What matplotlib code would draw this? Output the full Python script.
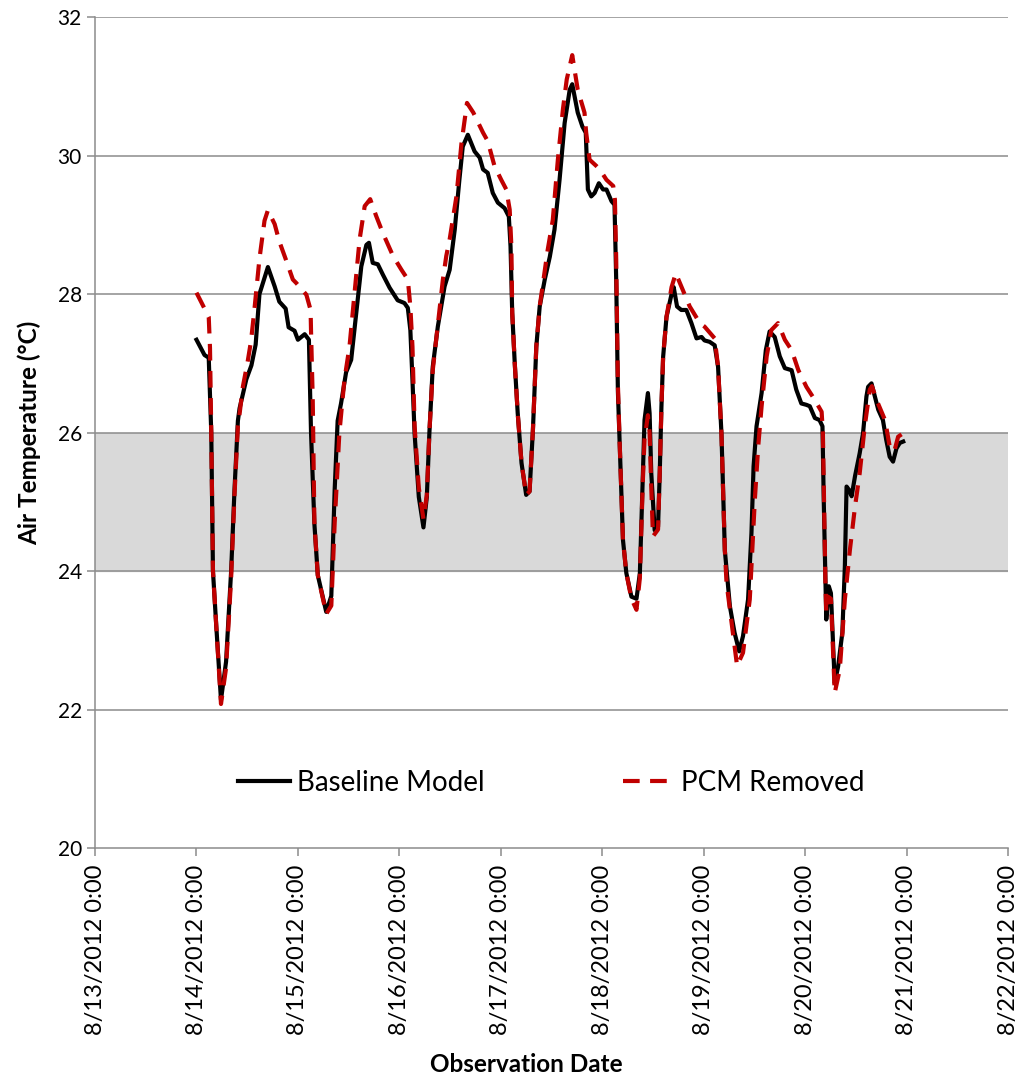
import pandas as pd
import matplotlib
matplotlib.use("Agg")
import matplotlib.pyplot as plt

# hours after 8/14/2012 0:00, air temperature in deg C
base_hours = [0, 1.9, 2.9, 3.5, 3.9, 4.7, 5.8, 7.0, 8.2, 9.0, 9.8, 10.2, 11.8, 13.0, 14.0, 14.9,
              16.9, 18.5, 19.6, 21.1, 21.8, 23.2, 24.0, 25.6, 26.6, 27.1, 27.9, 28.7, 30.7, 31.9,
              32.7, 33.4, 34.2, 35.4, 36.6, 37.8, 39.0, 40.2, 40.8, 41.7, 42.9, 44.1, 45.7, 47.6,
              49.2, 50.0, 50.6, 51.1, 51.6, 52.6, 53.7, 54.5, 55.1, 55.9, 57.1, 58.7, 59.9, 61.1,
              62.2, 63.0, 64.2, 65.8, 67.0, 67.8, 68.9, 70.1, 71.3, 72.9, 73.9, 74.3, 74.7, 75.3,
              76.0, 76.9, 78.0, 78.8, 79.6, 80.4, 81.2, 82.4, 83.6, 84.7, 85.9, 87.1, 88.3, 88.9,
              90.2, 91.3, 92.1, 92.6, 93.4, 94.2, 95.2, 96.2, 97.0, 98.2, 98.9, 99.3, 99.7, 100.1,
              100.9, 101.7, 102.9, 104.1, 104.9, 105.6, 106.0, 106.8, 107.2, 107.6, 108.4, 109.2,
              109.6, 110.0, 110.4, 111.2, 112.4, 112.9, 113.7, 114.7, 115.9, 117.1, 118.3, 119.5,
              120.2, 121.4, 122.6, 123.4, 124.2, 125.0, 126.2, 127.3, 128.4, 129.3, 130.5, 131.3,
              131.8, 132.5, 133.7, 134.7, 135.6, 136.8, 138.0, 139.2, 140.8, 141.9, 143.1, 144.3,
              145.1, 146.3, 147.4, 148.1, 148.4, 148.8, 149.0, 149.6, 150.1, 150.5, 151.0, 151.8,
              152.8, 153.4, 153.8, 154.4, 155.0, 155.8, 156.9, 157.7, 158.5, 158.9, 159.7, 160.5,
              161.3, 162.4, 163.2, 164.0, 164.8, 165.6, 166.4, 167.2]
base_temp = [27.34, 27.12, 27.08, 26.0, 24.0, 23.19, 22.14, 22.69, 24.0, 25.18, 26.17, 26.35, 26.77,
             26.97, 27.27, 28.0, 28.39, 28.11, 27.89, 27.79, 27.52, 27.47, 27.34, 27.42, 27.34,
             26.0, 24.68, 23.94, 23.41, 23.64, 25.18, 26.17, 26.42, 26.87, 27.05, 27.72, 28.4,
             28.71, 28.74, 28.45, 28.43, 28.28, 28.09, 27.91, 27.87, 27.8, 27.48, 26.76, 25.99,
             25.07, 24.63, 25.07, 25.99, 26.95, 27.53, 28.11, 28.35, 28.93, 29.65, 30.13, 30.3,
             30.06, 29.97, 29.8, 29.75, 29.46, 29.32, 29.24, 29.12, 28.69, 27.73, 27.0, 26.28,
             25.56, 25.1, 25.15, 26.04, 27.24, 27.82, 28.21, 28.54, 28.93, 29.65, 30.47, 30.95,
             31.03, 30.62, 30.42, 30.33, 29.51, 29.41, 29.46, 29.6, 29.51, 29.51, 29.34, 29.29,
             28.21, 26.6, 25.89, 24.45, 23.97, 23.63, 23.6, 23.97, 25.41, 26.18, 26.57, 26.28,
             25.41, 24.59, 24.64, 25.41, 26.37, 27.09, 27.67, 28.0, 28.1, 27.82, 27.77, 27.77,
             27.58, 27.36, 27.38, 27.33, 27.31, 27.26, 26.95, 25.99, 24.3, 23.49, 23.11, 22.84,
             23.06, 23.59, 24.55, 25.51, 26.09, 26.57, 27.19, 27.46, 27.38, 27.1, 26.93, 26.9,
             26.62, 26.42, 26.4, 26.38, 26.21, 26.18, 26.09, 25.03, 23.83, 23.3, 23.78, 23.68,
             23.11, 22.38, 22.62, 23.11, 24.07, 25.22, 25.17, 25.08, 25.37, 25.7, 25.99, 26.52,
             26.66, 26.71, 26.52, 26.33, 26.18, 25.89, 25.65, 25.58, 25.77, 25.85, 25.87]

pcm_hours = [0, 1.5, 2.9, 3.2, 3.5, 3.9, 4.7, 5.8, 7.0, 8.2, 9.0, 9.8, 10.2, 11.0, 12.1, 12.9, 13.7,
             14.9, 16.1, 16.9, 18.5, 19.6, 21.2, 22.8, 23.6, 26.0, 27.0, 27.1, 27.5, 27.9, 28.7,
             30.7, 31.9, 32.7, 33.8, 35.0, 36.2, 37.4, 38.6, 39.8, 41.1, 42.5, 44.1, 46.5, 48.5,
             50.0, 50.6, 51.1, 51.6, 52.6, 53.7, 54.5, 55.1, 55.9, 56.7, 58.3, 59.1, 59.9, 61.5,
             62.7, 64.0, 65.5, 67.8, 68.9, 70.5, 72.1, 73.3, 74.1, 74.5, 74.7, 75.3, 76.0, 76.9,
             78.0, 78.8, 79.6, 80.4, 81.2, 83.1, 84.3, 85.5, 86.7, 87.6, 88.9, 90.2, 91.8, 92.2,
             93.0, 94.6, 95.4, 97.0, 98.6, 99.0, 99.3, 99.7, 100.1, 100.9, 101.7, 102.9, 104.1,
             104.9, 105.6, 106.0, 106.8, 107.2, 107.6, 108.0, 109.2, 109.6, 110.0, 110.4, 111.2,
             112.4, 113.4, 116.7, 119.1, 120.2, 122.6, 123.4, 124.2, 125.0, 125.4, 126.6, 127.9,
             129.3, 130.9, 131.5, 132.1, 132.9, 133.7, 134.9, 136.0, 137.6, 139.2, 140.8, 142.4,
             144.3, 146.3, 147.9, 148.2, 148.8, 149.0, 149.4, 150.1, 150.5, 151.0, 152.2, 153.4,
             154.6, 155.8, 156.9, 158.1, 159.3, 159.8, 160.9, 162.9, 164.0, 165.1, 166.0, 167.2]
pcm_temp = [28.02, 27.84, 27.67, 27.22, 26.0, 24.0, 23.19, 22.08, 22.6, 23.9, 25.1, 26.1, 26.27,
            26.67, 27.02, 27.32, 27.77, 28.51, 29.06, 29.21, 29.01, 28.76, 28.49, 28.21, 28.16,
            27.99, 27.77, 27.47, 26.5, 24.7, 23.94, 23.38, 23.5, 24.7, 25.99, 26.76, 27.24, 28.01,
            28.79, 29.27, 29.37, 29.13, 28.88, 28.55, 28.35, 28.21, 27.82, 27.24, 26.1, 25.2,
            24.75, 25.1, 26.0, 26.9, 27.34, 28.21, 28.55, 28.79, 29.41, 30.18, 30.76, 30.62,
            30.33, 30.21, 29.85, 29.65, 29.51, 29.22, 28.69, 27.73, 27.0, 26.28, 25.56, 25.1,
            25.15, 26.04, 27.24, 27.82, 28.64, 29.07, 29.94, 30.67, 31.1, 31.45, 30.95, 30.62,
            30.33, 29.94, 29.85, 29.8, 29.65, 29.56, 29.36, 28.5, 26.7, 25.89, 24.45, 23.97,
            23.6, 23.44, 23.9, 25.3, 25.9, 26.25, 26.0, 25.2, 24.5, 24.6, 25.41, 26.37, 27.09,
            27.67, 28.1, 28.3, 27.82, 27.58, 27.53, 27.36, 26.95, 25.99, 24.3, 23.83, 23.25,
            22.63, 22.82, 23.59, 24.31, 25.03, 25.8, 26.38, 27.1, 27.48, 27.58, 27.34, 27.19,
            26.9, 26.66, 26.47, 26.3, 25.99, 23.83, 23.4, 23.63, 23.6, 23.0, 22.24, 22.58, 23.59,
            24.31, 24.93, 25.41, 26.09, 26.62, 26.67, 26.47, 26.18, 25.8, 25.73, 25.94, 25.99]

comfort_band = (24, 26)
start = pd.Timestamp("2012-08-14")
days = pd.date_range("2012-08-13", "2012-08-22", freq="D")
tick_labels = ["{}/{}/{} 0:00".format(d.month, d.day, d.year) for d in days]

base_t = start + pd.to_timedelta(base_hours, unit="h")
pcm_t = start + pd.to_timedelta(pcm_hours, unit="h")

plt.rcParams["font.family"] = ["Lato", "DejaVu Sans"]

fig = plt.figure(figsize=(10.24, 10.8), dpi=100)
ax = fig.add_axes([0.0928, 0.2148, 0.8916, 0.7694])

grid_c = "#8c8c8c"
ax.axhspan(comfort_band[0], comfort_band[1], color="#d9d9d9", zorder=0)
for v in range(22, 33, 2):
    ax.axhline(v, color=grid_c, lw=1.1, zorder=1)

ax.plot(base_t, base_temp, color="black", lw=3, label="Baseline Model", zorder=3,
        solid_joinstyle="round")
ax.plot(pcm_t, pcm_temp, color="#c00000", lw=3, dashes=(4, 2.5), label="PCM Removed", zorder=4)

ax.set_xlim(days[0], days[-1])
ax.set_ylim(20, 32)
ax.set_yticks(range(20, 33, 2))
ax.set_xticks(days)
ax.set_xticklabels(tick_labels, rotation=90, fontsize=17)
ax.tick_params(axis="y", labelsize=15, length=6, color=grid_c, width=1.1)
ax.tick_params(axis="x", length=6, color=grid_c, width=1.1, pad=6)

for s in ["top", "right"]:
    ax.spines[s].set_visible(False)
for s in ["left", "bottom"]:
    ax.spines[s].set_color(grid_c)
    ax.spines[s].set_linewidth(1.1)

ax.set_ylabel("Air Temperature (\u00b0C)", fontsize=17.5, fontweight="bold", labelpad=12)
ax.set_xlabel("Observation Date", fontsize=17.5, fontweight="bold", labelpad=10)
ax.xaxis.set_label_coords(0.472, -0.247)

ax.legend(loc="lower center", bbox_to_anchor=(0.5, 0.033), ncol=2, frameon=False,
          fontsize=20, handlelength=1.85, columnspacing=5.0, handletextpad=0.25)

fig.savefig("out.png", dpi=100)
